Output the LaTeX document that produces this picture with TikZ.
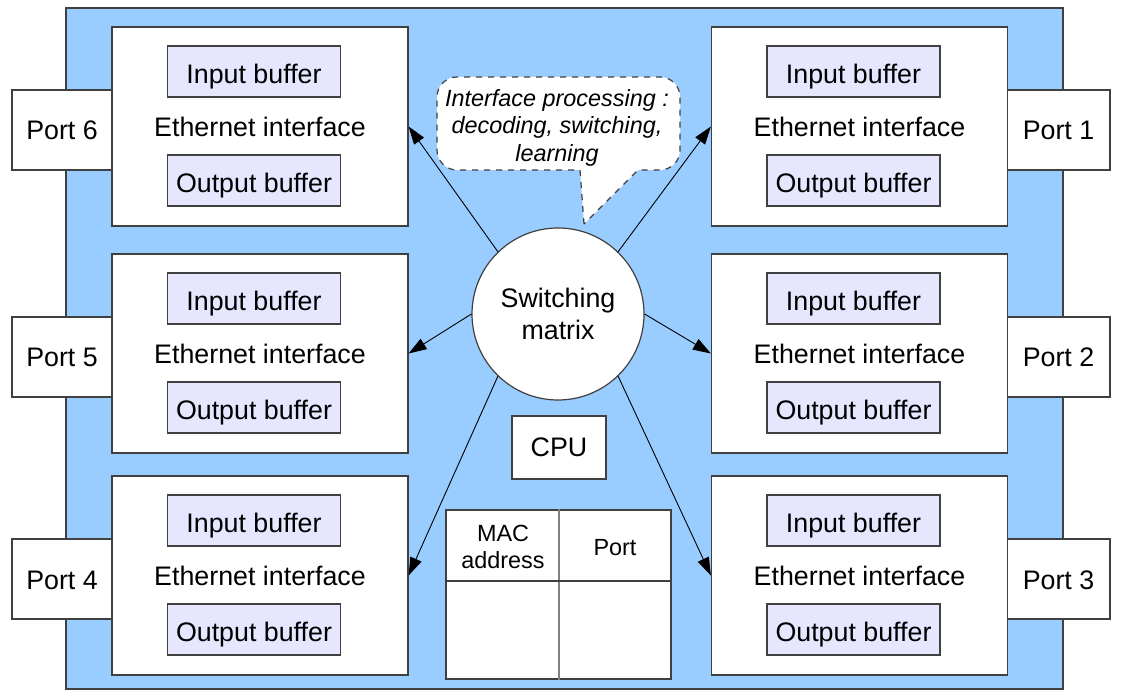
\documentclass[tikz,border=0pt]{standalone}
\usepackage{fontspec}
\setmainfont{Liberation Sans}
\usetikzlibrary{arrows.meta}
\definecolor{bgblue}{HTML}{99CCFF}
\definecolor{buflav}{HTML}{E6E6FF}
\definecolor{edge}{HTML}{404040}
\begin{document}
\begin{tikzpicture}[x=0.5pt,y=-0.5pt,
  mainfont/.style={font=\fontsize{13.4}{16}\selectfont},
  box/.style={draw=edge,line width=0.6pt,fill=white,inner sep=0pt},
  ifbox/.style={box,minimum width=148pt,minimum height=99.5pt},
  portbox/.style={box,minimum height=40pt,mainfont,text height=10pt,text depth=0pt},
  bufbox/.style={box,fill=buflav,minimum width=86.5pt,minimum height=25.5pt,mainfont,text height=11.8pt,text depth=0pt},
  lbl/.style={inner sep=0pt,mainfont},
  link/.style={line width=0.45pt,-{Triangle[length=9pt,width=6pt]}},
  smallfont/.style={font=\fontsize{11.7}{13.6}\selectfont}
]
\useasboundingbox (0,0) rectangle (1123,699);
\node[draw=edge,line width=0.6pt,fill=bgblue,minimum width=498.5pt,minimum height=340.5pt,inner sep=0pt] (outer) at (564.5,348.5) {};
% ports
\node[portbox,minimum width=50pt] (p6) at (62,130) {Port 6};
\node[portbox,minimum width=50pt] (p5) at (62,357) {Port 5};
\node[portbox,minimum width=50pt] (p4) at (62,579) {Port 4};
\node[portbox,minimum width=51.5pt] (p1) at (1058.5,130) {Port 1};
\node[portbox,minimum width=51.5pt] (p2) at (1058.5,357) {Port 2};
\node[portbox,minimum width=51.5pt] (p3) at (1058.5,579) {Port 3};
% interface boxes
\foreach \n/\x/\y in {b6/260/126.5,b5/260/353.5,b4/260/575.5,b1/859.5/126.5,b2/859.5/353.5,b3/859.5/575.5}{
  \node[ifbox] (\n) at (\x,\y) {};
  \node[bufbox] (\n in) at (\x-6,\y-55) {Input buffer};
  \node[bufbox] (\n out) at (\x-6,\y+54) {Output buffer};
  \node[lbl,anchor=base] (\n lbl) at (\x,\y+10) {Ethernet interface};
}
% switching matrix
\node[box,circle,minimum size=86pt,mainfont,align=center] (sw) at (558,314) {Switching\\matrix};
% CPU
\node[box,minimum width=47pt,minimum height=31.5pt,mainfont,text height=9.5pt,text depth=0pt] (cpu) at (559,447.5) {CPU};
% MAC table
\node[box,minimum width=112.5pt,minimum height=84.5pt] (tab) at (558.5,594.5) {};
\draw[draw=gray,line width=1pt] (tab.north) -- (tab.south);
\draw[draw=edge,line width=0.6pt] (tab.west |- 0,581) coordinate (hl) -- (tab.east |- 0,581) coordinate (hr);
\node[lbl,smallfont,align=center] (mac) at (503,547) {MAC\\address};
\node[lbl,smallfont] (tport) at (615,547.5) {Port};
% arrows
\draw[link] (sw.134) -- (b6.east);
\draw[link] (sw.180) -- (b5.east);
\draw[link] (sw.226) -- (b4.east);
\draw[link] (sw.46) -- (b1.west);
\draw[link] (sw.0) -- (b2.west);
\draw[link] (sw.314) -- (b3.west);
% callout
\coordinate (tip) at (584,224);
\draw[draw=edge,line width=0.6pt,dashed,fill=white] (tip) -- (580,170) [rounded corners=10pt] -- (437,170) -- (437,77) -- (680,77) -- (680,170) [sharp corners] -- (638,170) -- cycle;
\node[lbl,font=\fontsize{11.7}{13.75}\selectfont\itshape,align=center] (note) at (557,127.5) {Interface processing :\\decoding, switching,\\learning};
\end{tikzpicture}
\end{document}
